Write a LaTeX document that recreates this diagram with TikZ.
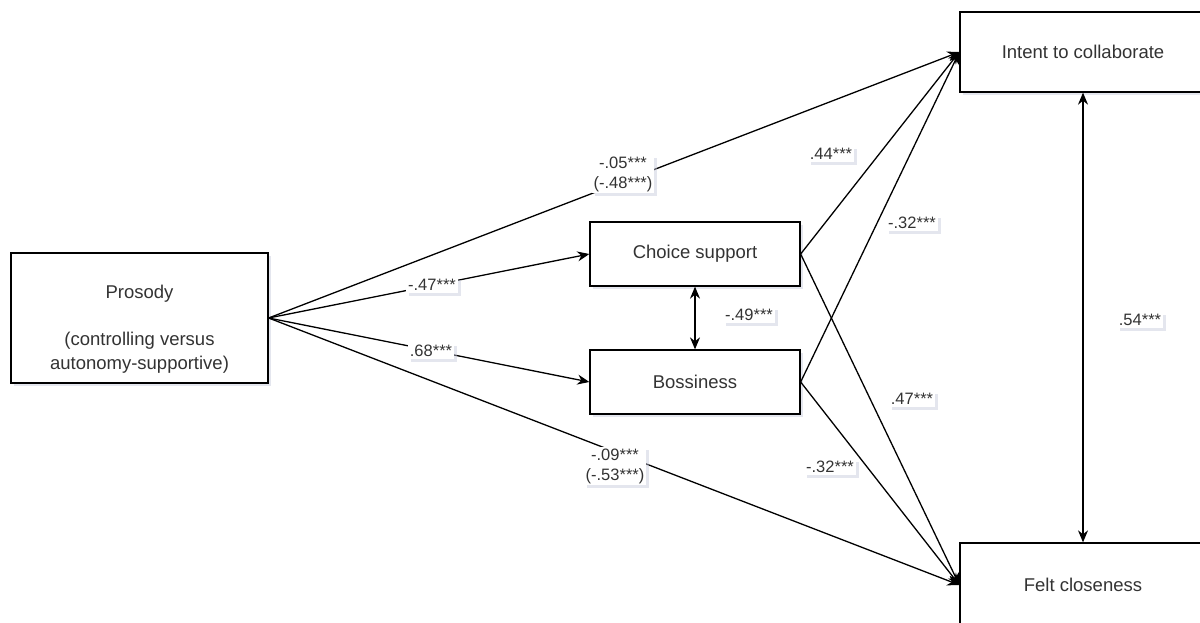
\documentclass[tikz,border=0pt]{standalone}
\usepackage{fontspec}
\setmainfont{Liberation Sans}
\usetikzlibrary{arrows.meta,shadows}
\definecolor{txtc}{HTML}{333333}
\definecolor{shd}{HTML}{C4C7DA}
\begin{document}
\begin{tikzpicture}[x=1pt,y=-1pt,
  shadowed/.style={drop shadow={shadow xshift=3pt, shadow yshift=-3pt, fill=shd, opacity=0.45}},
  box/.style={draw=black, line width=1.3pt, fill=white, inner sep=0pt, text=txtc,
    font=\fontsize{18.5}{23.5}\selectfont, shadowed},
  boxtext/.style={text=txtc, align=center, inner sep=0pt, font=\fontsize{18.5}{23.5}\selectfont},
  lbl/.style={fill=white, inner sep=2pt, text=txtc, align=center,
    font=\fontsize{16.5}{20}\selectfont, shadowed},
  conn/.style={line width=1.3pt, -{Stealth[length=12pt,width=10pt]}},
  dconn/.style={line width=1.3pt, {Stealth[length=12pt,width=10pt]}-{Stealth[length=12pt,width=10pt]}}
]
\useasboundingbox (0,0) rectangle (1200,623);
\clip (0,0) rectangle (1200,623);

% boxes
\node[box, minimum width=257pt, minimum height=130pt] (pro) at (139.5,318) {};
\node[boxtext] (protext) at (139.5,329) {Prosody\\[23.5pt](controlling versus\\autonomy-supportive)};
\node[box, minimum width=210pt, minimum height=64pt] (choice) at (695,254) {Choice support};
\node[box, minimum width=210pt, minimum height=64pt] (boss) at (695,382) {Bossiness};
\node[box, minimum width=246pt, minimum height=80pt] (intent) at (1083,52) {Intent to collaborate};
\node[box, minimum width=246pt, minimum height=84pt] (felt) at (1083,585) {Felt closeness};

% connectors
\draw[conn] (pro.east) -- (intent.west);
\draw[conn] (pro.east) -- (choice.west);
\draw[conn] (pro.east) -- (boss.west);
\draw[conn] (pro.east) -- (felt.west);
\draw[conn] (choice.east) -- (intent.west);
\draw[conn] (choice.east) -- (felt.west);
\draw[conn] (boss.east) -- (intent.west);
\draw[conn] (boss.east) -- (felt.west);
\draw[dconn] (choice.south) -- (boss.north);
\draw[dconn] (intent.south) -- (felt.north);

% labels
\node[lbl] (l1) at (623,174) {-.05***\\(-.48***)};
\node[lbl] (l2) at (432,285) {-.47***};
\node[lbl] (l3) at (431,351) {.68***};
\node[lbl] (l4) at (615,466) {-.09***\\(-.53***)};
\node[lbl] (l5) at (831,154) {.44***};
\node[lbl] (l6) at (912,223) {-.32***};
\node[lbl] (l7) at (749,315) {-.49***};
\node[lbl] (l8) at (912,399) {.47***};
\node[lbl] (l9) at (830,467) {-.32***};
\node[lbl] (l10) at (1140,320) {.54***};
\end{tikzpicture}
\end{document}
